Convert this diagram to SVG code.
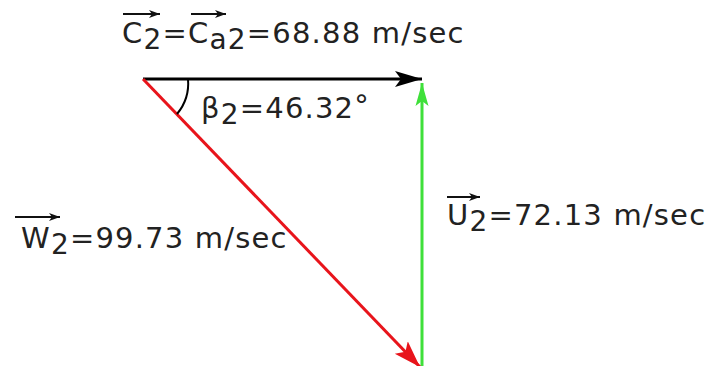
<svg xmlns="http://www.w3.org/2000/svg" width="710" height="366" viewBox="0 0 710 366">
<defs>
<style>
.t{font-family:"DejaVu Sans",Verdana,sans-serif;font-size:29px;letter-spacing:1.2px;fill:#222}
.s{font-size:28px}
.ov{stroke:#111;stroke-width:2;fill:none}
</style>
<marker id="ab" viewBox="0 -9 28 18" refX="27" refY="0" markerWidth="28" markerHeight="18" orient="auto" markerUnits="userSpaceOnUse"><path d="M0,-8 L27,0 L0,8 L6,0 Z" fill="#000"/></marker>
<marker id="ar" viewBox="0 -10 28 20" refX="27" refY="0" markerWidth="28" markerHeight="20" orient="auto" markerUnits="userSpaceOnUse"><path d="M0,-9 L27,0 L0,9 L6,0 Z" fill="#e8141b"/></marker>
<marker id="ag" viewBox="0 -8 24 16" refX="23" refY="0" markerWidth="24" markerHeight="16" orient="auto" markerUnits="userSpaceOnUse"><path d="M0,-6.5 L23,0 L0,6.5 L5,0 Z" fill="#3fe03a"/></marker>
<marker id="sm" viewBox="0 -5 12 10" refX="11" refY="0" markerWidth="12" markerHeight="10" orient="auto" markerUnits="userSpaceOnUse"><path d="M0,-4 L11,0 L0,4 L3,0 Z" fill="#111"/></marker>
</defs>
<g id="connectors">
<line x1="143" y1="79" x2="422" y2="79" stroke="#000" stroke-width="3" marker-end="url(#ab)"/>
<line x1="422" y1="366" x2="422" y2="83" stroke="#3fe03a" stroke-width="3" marker-end="url(#ag)"/>
<line x1="143" y1="79" x2="420" y2="367" stroke="#e8141b" stroke-width="3" marker-end="url(#ar)"/>
<path d="M188,79 A48,48 0 0 1 177,114" fill="none" stroke="#000" stroke-width="2"/>
</g>
<g id="label-c2">
<text class="t" x="122" y="43">C<tspan class="s" dy="6">2</tspan><tspan dy="-6">=C</tspan><tspan class="s" dy="6">a2</tspan><tspan dy="-6">=68.88 m/sec</tspan></text>
<line class="ov" x1="123" y1="14" x2="160" y2="14" marker-end="url(#sm)"/>
<line class="ov" x1="191" y1="14" x2="226" y2="14" marker-end="url(#sm)"/>
</g>
<g id="label-beta">
<text class="t" x="201" y="118">β<tspan class="s" dy="6">2</tspan><tspan dy="-6">=46.32</tspan><tspan dy="-3">°</tspan></text>
</g>
<g id="label-w2">
<text class="t" x="21" y="248">W<tspan class="s" dy="6">2</tspan><tspan dy="-6">=99.73 m/sec</tspan></text>
<line class="ov" x1="15" y1="217" x2="60" y2="217" marker-end="url(#sm)"/>
</g>
<g id="label-u2">
<text class="t" x="447" y="225">U<tspan class="s" dy="6">2</tspan><tspan dy="-6">=72.13 m/sec</tspan></text>
<line class="ov" x1="447" y1="197" x2="480" y2="197" marker-end="url(#sm)"/>
</g>
</svg>
